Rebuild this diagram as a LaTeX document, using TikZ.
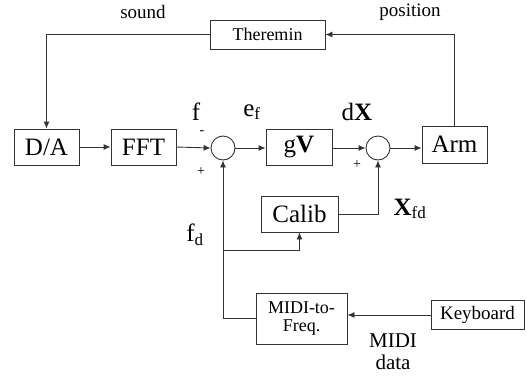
\documentclass[tikz,border=0pt]{standalone}
\usepackage{fontspec}
\setmainfont{Liberation Serif}
\usetikzlibrary{arrows.meta}
\begin{document}
\begin{tikzpicture}[x=1pt,y=-1pt,
  blk/.style={draw=black!80,line width=0.9pt,inner sep=0pt,font=\fontsize{25}{27}\selectfont},
  sblk/.style={draw=black!80,line width=0.9pt,inner sep=0pt,font=\fontsize{18}{20}\selectfont},
  sumc/.style={draw=black!80,line width=0.9pt,circle,minimum size=24pt,inner sep=0pt},
  lbl/.style={font=\fontsize{19}{21}\selectfont,inner sep=0pt},
  big/.style={font=\fontsize{25}{27}\selectfont,inner sep=0pt},
  sml/.style={font=\fontsize{14}{16}\selectfont,inner sep=0pt},
  conn/.style={draw=black!80,line width=0.9pt},
  arr/.style={conn,-{Latex[length=7pt,width=6pt]}}]
\useasboundingbox (0,0) rectangle (526,381);
\node[sblk,minimum width=115pt,minimum height=29pt] (ther) at (267.5,34.5) {Theremin};
\node[blk,minimum width=65pt,minimum height=36pt] (da) at (46.5,147) {D/A};
\node[blk,minimum width=65pt,minimum height=36pt] (fft) at (143.5,147) {FFT};
\node[sumc] (s1) at (223,148) {};
\node[blk,minimum width=66pt,minimum height=36pt] (gv) at (299,147) {g\textbf{V}};
\node[sumc] (s2) at (378,148) {};
\node[blk,minimum width=65pt,minimum height=37pt] (arm) at (454.5,144.5) {Arm};
\node[blk,minimum width=77pt,minimum height=36pt] (cal) at (299.5,214) {Calib};
\node[sblk,minimum width=91pt,minimum height=51pt,align=center] (midi) at (301.5,318.5) {MIDI-to-\\[-2pt]Freq.};
\node[sblk,minimum width=93pt,minimum height=29pt,font=\fontsize{19}{21}\selectfont] (kb) at (477.5,315) {Keyboard};
% labels
\node[lbl] (lsound) at (143,12) {sound};
\node[lbl] (lpos) at (410,12) {position};
\node[big] (lf) at (196,112) {f};
\node[big] (lef) at (252,112) {e\textsubscript{\fontsize{17}{17}\selectfont f}};
\node[big] (ldx) at (357,112) {d\textbf{X}};
\node[sml] (lm1) at (202,133) {-};
\node[sml] (lp1) at (201,172) {+};
\node[sml] (lp2) at (357,165) {+};
\node[big] (lxfd) at (410,209) {\textbf{X}\textsubscript{\fontsize{17}{17}\selectfont fd}};
\node[big] (lfd) at (195,235) {f\textsubscript{\fontsize{17}{17}\selectfont d}};
\node[font=\fontsize{21}{23}\selectfont,align=center,inner sep=0pt] (lmidi) at (393,352) {MIDI\\[-1pt]data};
% connectors
\coordinate (j1) at (224,250);
\draw[arr] (ther.west) -| (da.north);
\draw[arr] (arm.north) |- (ther.east);
\draw[arr] (da) -- (fft);
\draw[arr] (fft.east) -- (s1.west);
\draw[arr] (s1.east) -- (gv.west |- s1.east);
\draw[arr] (gv.east |- s2.west) -- (s2.west);
\draw[arr] (s2.east) -- (arm.west |- s2.east);
\draw[arr] (cal.east) -| (s2.south);
\draw[arr] (midi.west) -| (s1.south);
\draw[arr] (j1) -| (cal.south);
\draw[arr] (kb.west) -- (midi.east |- kb.west);
\end{tikzpicture}
\end{document}
